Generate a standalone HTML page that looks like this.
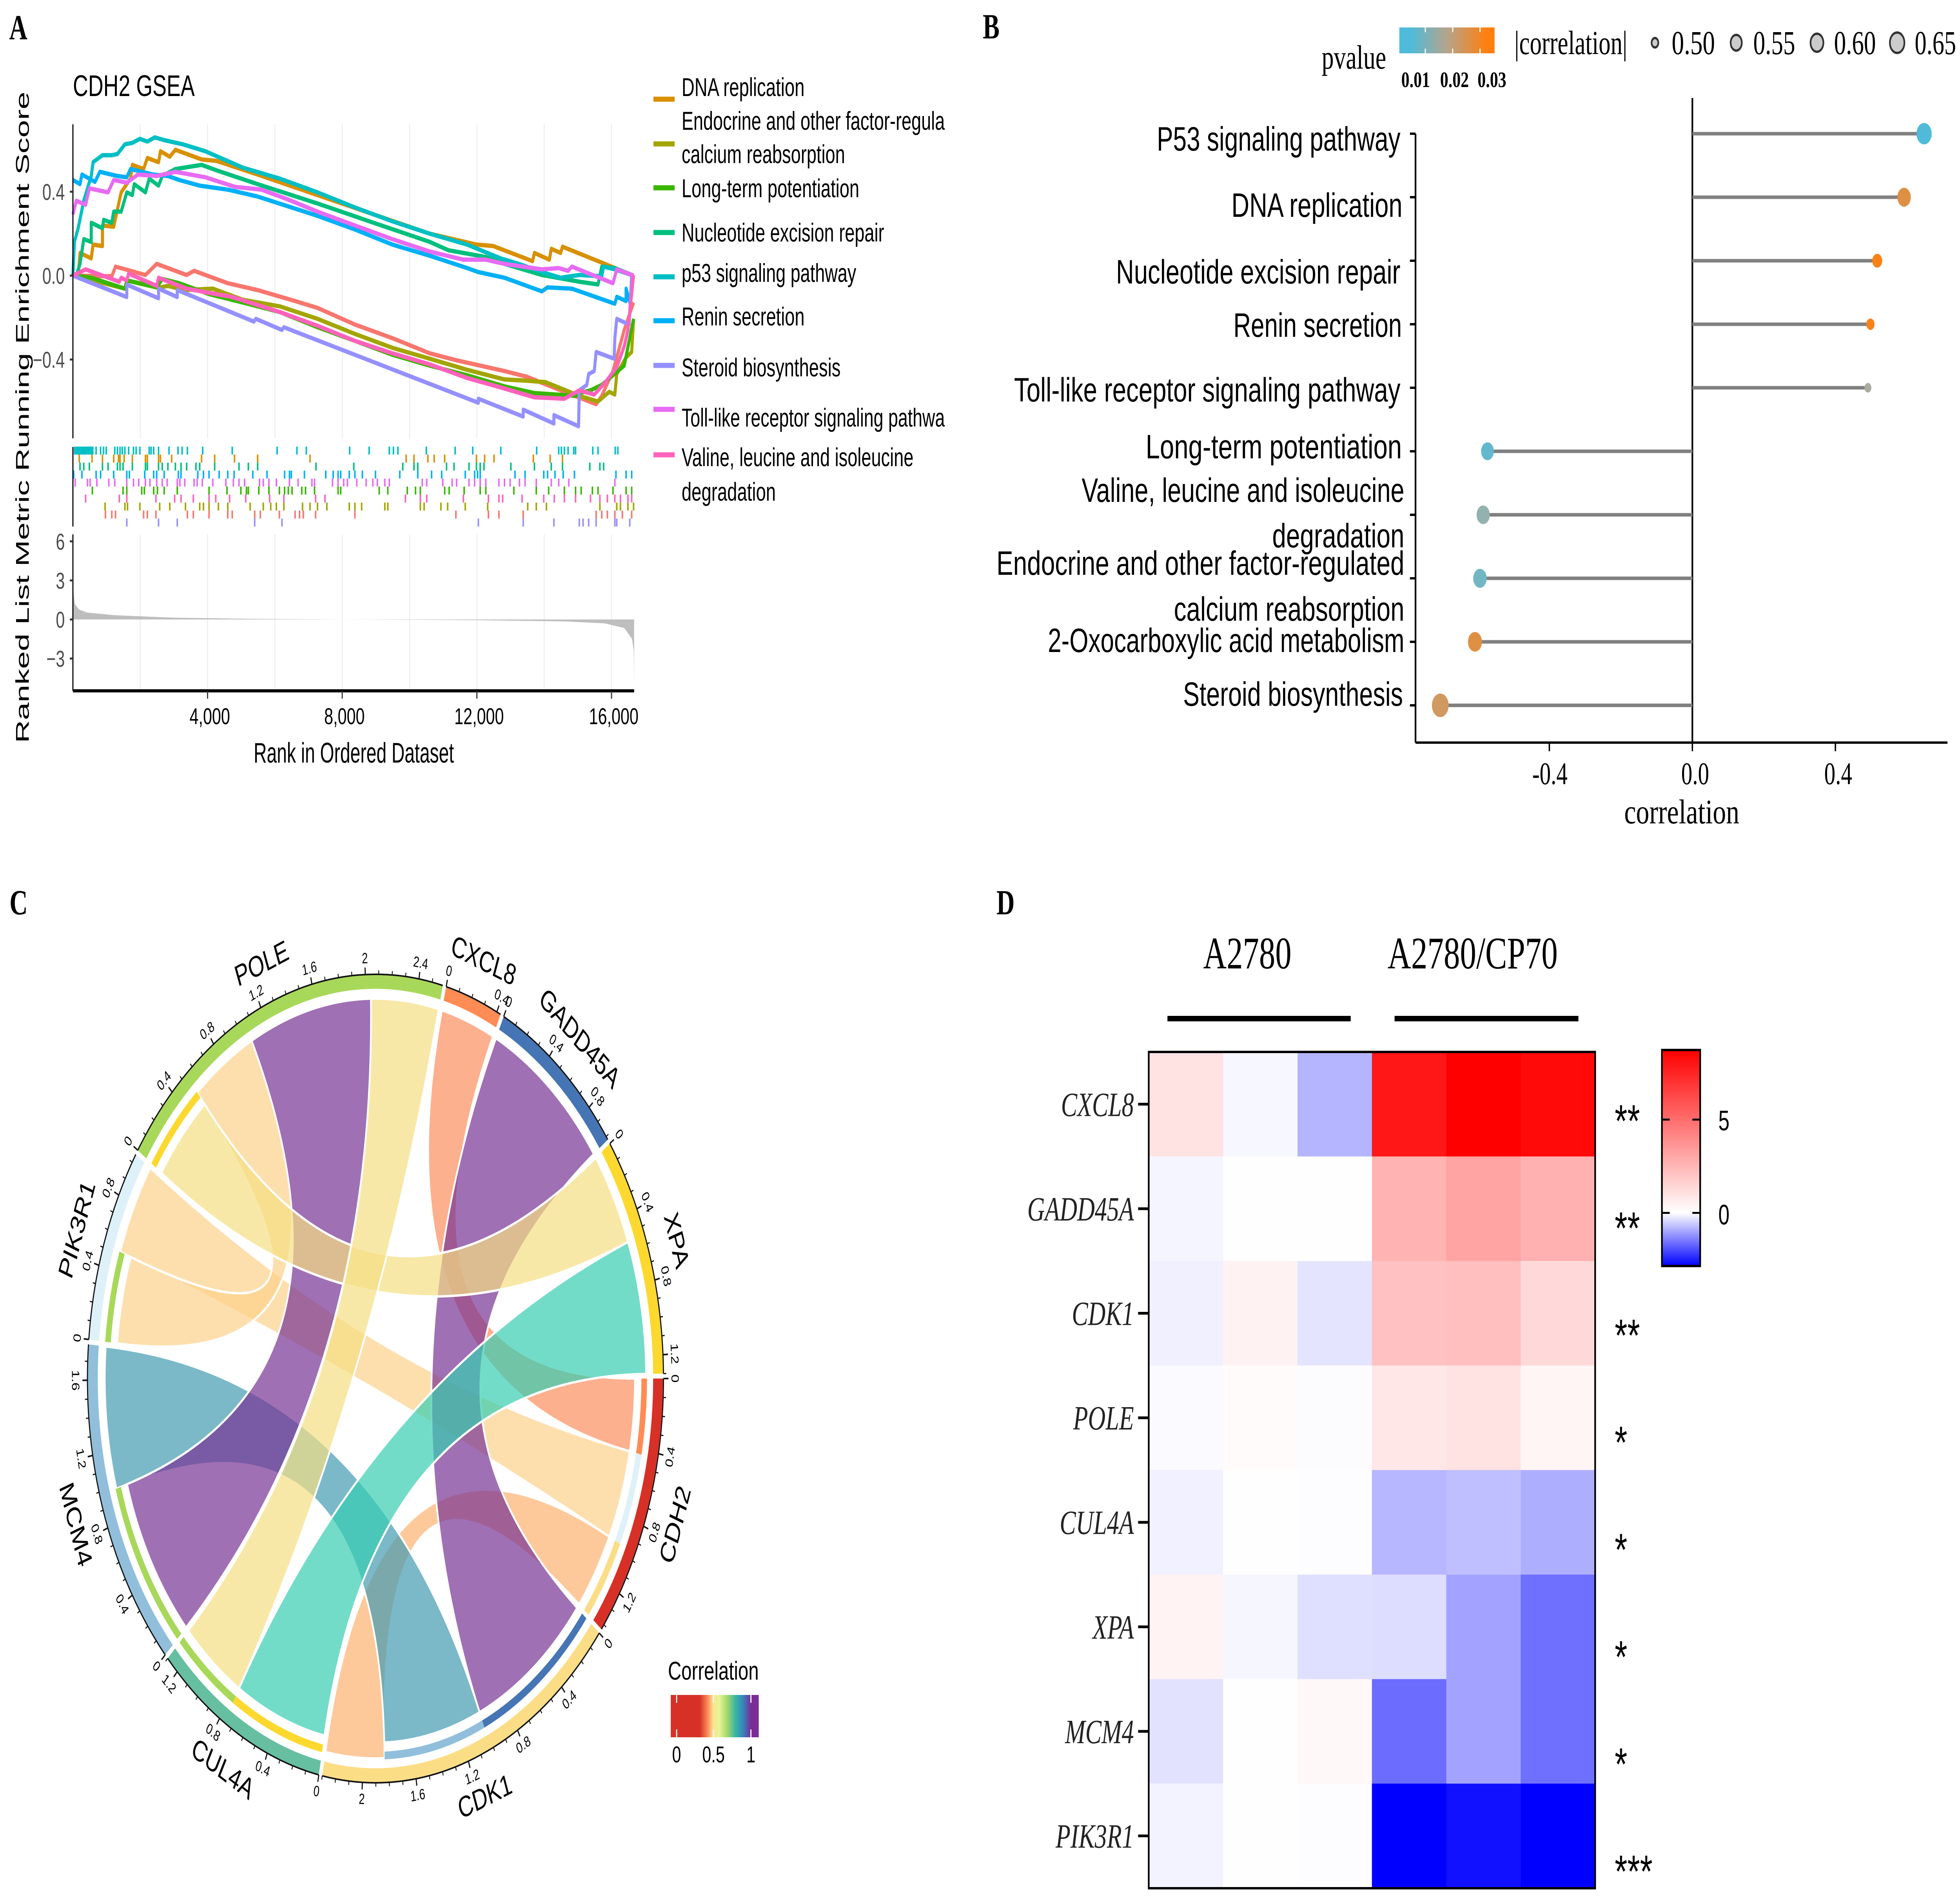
<!DOCTYPE html>
<html lang="en">
<head>
<meta charset="utf-8">
<title>CDH2 multi-panel figure</title>
<style>
html,body{margin:0;padding:0;background:#fff;width:100%;height:100%;overflow:hidden;}
svg{display:block;width:100vw;height:100vh;}
text{font-family:"Liberation Sans",sans-serif;fill:#000;}
.serif{font-family:"Liberation Serif",serif;}
</style>
</head>
<body>
<svg id="chart" xmlns="http://www.w3.org/2000/svg" viewBox="0 0 7016 4846" preserveAspectRatio="none">
<defs>
<linearGradient id="pvalue-gradient" x1="0" x2="1" y1="0" y2="0">
<stop offset="0" stop-color="#4FBBD9"/><stop offset="0.12" stop-color="#4FBBD9"/><stop offset="0.5" stop-color="#B5A48C"/><stop offset="0.92" stop-color="#FF7F0E"/><stop offset="1" stop-color="#FF7F0E"/>
</linearGradient>
<linearGradient id="correlation-gradient" x1="0" x2="1" y1="0" y2="0">
<stop offset="0" stop-color="#D73027"/><stop offset="0.33" stop-color="#D73027"/><stop offset="0.42" stop-color="#FC8D59"/><stop offset="0.48" stop-color="#FEE08B"/><stop offset="0.55" stop-color="#E6F598"/><stop offset="0.64" stop-color="#A6D96A"/><stop offset="0.73" stop-color="#3CB8A0"/><stop offset="0.82" stop-color="#3288BD"/><stop offset="0.91" stop-color="#7B2D96"/><stop offset="1" stop-color="#7B2D96"/>
</linearGradient>
<linearGradient id="heat-gradient" x1="0" x2="0" y1="0" y2="1">
<stop offset="0" stop-color="#FF0000"/><stop offset="0.753" stop-color="#FFFFFF"/><stop offset="1" stop-color="#0000FF"/>
</linearGradient>
</defs>

<!-- Panel letters -->
<text class="serif" x="33" y="100" font-size="90" font-weight="bold">A</text>
<text class="serif" x="3518" y="98" font-size="90" font-weight="bold">B</text>
<text class="serif" x="34" y="2332" font-size="90" font-weight="bold">C</text>
<text class="serif" x="3567" y="2332" font-size="90" font-weight="bold">D</text>

<!-- Panel A static text -->
<g id="panel-a">
<text x="261" y="245" font-size="76" textLength="436" lengthAdjust="spacingAndGlyphs">CDH2 GSEA</text>
<text transform="translate(103,1895) rotate(-90)" font-size="66" textLength="1661" lengthAdjust="spacingAndGlyphs">Ranked List Metric Running Enrichment Score</text>
<text x="908" y="1945" font-size="72" textLength="717" lengthAdjust="spacingAndGlyphs">Rank in Ordered Dataset</text>
<g font-size="66">
<text x="2440" y="245" textLength="440" lengthAdjust="spacingAndGlyphs">DNA replication</text>
<text x="2440" y="331" textLength="942" lengthAdjust="spacingAndGlyphs">Endocrine and other factor-regula</text>
<text x="2440" y="416" textLength="585" lengthAdjust="spacingAndGlyphs">calcium reabsorption</text>
<text x="2440" y="503" textLength="636" lengthAdjust="spacingAndGlyphs">Long-term potentiation</text>
<text x="2440" y="616" textLength="725" lengthAdjust="spacingAndGlyphs">Nucleotide excision repair</text>
<text x="2440" y="719" textLength="625" lengthAdjust="spacingAndGlyphs">p53 signaling pathway</text>
<text x="2440" y="830" textLength="440" lengthAdjust="spacingAndGlyphs">Renin secretion</text>
<text x="2440" y="960" textLength="569" lengthAdjust="spacingAndGlyphs">Steroid biosynthesis</text>
<text x="2440" y="1088" textLength="942" lengthAdjust="spacingAndGlyphs">Toll-like receptor signaling pathwa</text>
<text x="2440" y="1189" textLength="830" lengthAdjust="spacingAndGlyphs">Valine, leucine and isoleucine</text>
<text x="2440" y="1277" textLength="337" lengthAdjust="spacingAndGlyphs">degradation</text>
</g>
</g>

<!-- Panel B static text -->
<g id="panel-b">
<text class="serif" x="4731" y="175" font-size="86" textLength="231" lengthAdjust="spacingAndGlyphs">pvalue</text>
<rect x="5009" y="70" width="341" height="66" fill="url(#pvalue-gradient)"/>
<text class="serif" x="5016" y="222" font-size="56" font-weight="bold" textLength="103" lengthAdjust="spacingAndGlyphs">0.01</text>
<text class="serif" x="5155" y="222" font-size="56" font-weight="bold" textLength="103" lengthAdjust="spacingAndGlyphs">0.02</text>
<text class="serif" x="5289" y="222" font-size="56" font-weight="bold" textLength="103" lengthAdjust="spacingAndGlyphs">0.03</text>
<text class="serif" x="5421" y="138" font-size="86" textLength="404" lengthAdjust="spacingAndGlyphs">|correlation|</text>
<g font-size="86" class="serif">
<text class="serif" x="5984" y="138" textLength="155" lengthAdjust="spacingAndGlyphs">0.50</text>
<text class="serif" x="6276" y="138" textLength="150" lengthAdjust="spacingAndGlyphs">0.55</text>
<text class="serif" x="6565" y="138" textLength="150" lengthAdjust="spacingAndGlyphs">0.60</text>
<text class="serif" x="6854" y="138" textLength="148" lengthAdjust="spacingAndGlyphs">0.65</text>
</g>
<g font-size="86">
<text x="4141" y="384" textLength="872" lengthAdjust="spacingAndGlyphs">P53 signaling pathway</text>
<text x="4408" y="553" textLength="612" lengthAdjust="spacingAndGlyphs">DNA replication</text>
<text x="3995" y="723" textLength="1018" lengthAdjust="spacingAndGlyphs">Nucleotide excision repair</text>
<text x="4415" y="859" textLength="603" lengthAdjust="spacingAndGlyphs">Renin secretion</text>
<text x="3630" y="1024" textLength="1383" lengthAdjust="spacingAndGlyphs">Toll-like receptor signaling pathway</text>
<text x="4101" y="1169" textLength="917" lengthAdjust="spacingAndGlyphs">Long-term potentiation</text>
<text x="3872" y="1280" textLength="1155" lengthAdjust="spacingAndGlyphs">Valine, leucine and isoleucine</text>
<text x="4554" y="1396" textLength="473" lengthAdjust="spacingAndGlyphs">degradation</text>
<text x="3567" y="1466" textLength="1460" lengthAdjust="spacingAndGlyphs">Endocrine and other factor-regulated</text>
<text x="4202" y="1583" textLength="825" lengthAdjust="spacingAndGlyphs">calcium reabsorption</text>
<text x="3751" y="1663" textLength="1276" lengthAdjust="spacingAndGlyphs">2-Oxocarboxylic acid metabolism</text>
<text x="4235" y="1800" textLength="787" lengthAdjust="spacingAndGlyphs">Steroid biosynthesis</text>
</g>
<text class="serif" x="5814" y="2100" font-size="88" textLength="412" lengthAdjust="spacingAndGlyphs">correlation</text>
</g>

<!-- Panel C static legend -->
<g id="panel-c">
<text x="2391" y="4284" font-size="66" textLength="325" lengthAdjust="spacingAndGlyphs">Correlation</text>
<rect x="2401" y="4323" width="315" height="108" fill="url(#correlation-gradient)"/>
<rect x="2420" y="4323" width="4" height="20" fill="#fff"/>
<rect x="2552" y="4323" width="4" height="20" fill="#fff"/>
<rect x="2686" y="4323" width="4" height="20" fill="#fff"/>
<rect x="2420" y="4411" width="4" height="20" fill="#fff"/>
<rect x="2552" y="4411" width="4" height="20" fill="#fff"/>
<rect x="2686" y="4411" width="4" height="20" fill="#fff"/>
<text x="2422" y="4495" font-size="58" text-anchor="middle">0</text>
<text x="2554" y="4495" font-size="58" text-anchor="middle">0.5</text>
<text x="2688" y="4495" font-size="58" text-anchor="middle">1</text>
</g>

<!-- Panel D static parts -->
<g id="panel-d">
<text class="serif" x="4307" y="2470" font-size="116" textLength="316" lengthAdjust="spacingAndGlyphs">A2780</text>
<text class="serif" x="4967" y="2470" font-size="116" textLength="609" lengthAdjust="spacingAndGlyphs">A2780/CP70</text>
<rect x="4179" y="2591" width="656" height="14" fill="#000"/>
<rect x="4992" y="2591" width="658" height="14" fill="#000"/>
<rect x="5949" y="2678" width="137" height="551" fill="url(#heat-gradient)" stroke="#000" stroke-width="6"/>
<rect x="5949" y="2853" width="28" height="5" fill="#000"/>
<rect x="6058" y="2853" width="28" height="5" fill="#000"/>
<rect x="5949" y="3091" width="28" height="5" fill="#000"/>
<rect x="6058" y="3091" width="28" height="5" fill="#000"/>
<text x="6151" y="2883" font-size="72">5</text>
<text x="6151" y="3123" font-size="72">0</text>
</g>
</svg>

<script>
/* ---------- Panel A data: GSEA running enrichment curves ---------- */
const seriesKeys = ['Oxo','DNA','Endocrine','LTP','NER','P53','Renin','Steroid','Toll','Valine'];
const rankOxo = [0,1155,1266,2155,2489,3378,3600,4600,5488,6599,7266,8377,9488,10599,11377,12821,13488,14488,15543,15710,16043,16377,16655];
const esOxo = [0,-.003,.043,.003,.056,.003,.023,-.036,-.069,-.121,-.154,-.233,-.298,-.370,-.403,-.455,-.482,-.547,-.613,-.573,-.455,-.259,-.128];
const rankDNA = [0,156,211,544,600,878,878,1211,1433,1711,1766,2100,2211,2544,2600,2877,3044,3822,4266,5488,7266,8932,10599,11988,12488,13654,13710,14154,14210,14488,14543,15710,16099,16655];
const esDNA = [0,0,.108,.082,.148,.141,.239,.233,.397,.462,.528,.508,.561,.541,.593,.567,.600,.554,.547,.482,.384,.292,.200,.148,.141,.069,.108,.076,.128,.108,.138,.062,.036,0];
const rankEndocrine = [0,600,1544,1600,2600,2822,3322,4155,5044,6155,7266,8377,9488,10599,11710,12821,13488,14043,15043,15599,15932,16099,16155,16433,16599,16655];
const esEndocrine = [0,-.023,-.062,-.023,-.056,-.049,-.069,-.062,-.115,-.147,-.206,-.278,-.344,-.396,-.449,-.495,-.501,-.508,-.573,-.600,-.554,-.567,-.469,-.390,-.364,-.206];
const rankLTP = [0,544,1544,1600,2489,2655,3155,4044,5044,6155,7266,8377,9488,10599,11710,12821,13710,14932,15043,15377,15710,16377,16655];
const esLTP = [0,-.010,-.062,-.023,-.056,-.016,-.036,-.088,-.128,-.174,-.246,-.311,-.377,-.429,-.475,-.528,-.560,-.573,-.560,-.547,-.521,-.429,-.206];
const rankNER = [0,100,211,322,544,544,878,911,1155,1211,1433,1600,1766,1822,2155,2266,2544,2655,3044,3822,4266,5488,7266,8932,10599,11155,12266,12821,13932,15043,15599,15710,16099,16655];
const esNER = [0,0,.056,.174,.161,.252,.226,.266,.252,.305,.305,.397,.384,.436,.397,.462,.429,.475,.508,.528,.502,.436,.344,.252,.161,.121,.089,.056,.003,-.029,-.042,.043,.036,0];
const rankP53 = [0,44,156,322,544,600,878,1155,1322,1544,1766,1989,2211,2433,2711,3266,3933,4488,5044,6155,7266,8377,9488,10599,11710,12710,13377,13932,14488,15043,15710,15765,16099,16655];
const esP53 = [0,.161,.226,.357,.475,.541,.574,.574,.580,.626,.633,.652,.639,.659,.646,.626,.593,.554,.515,.462,.397,.325,.259,.200,.148,.082,.049,.017,-.010,.003,-.003,.043,.030,0];
const rankRenin = [0,211,267,656,800,1322,1600,1711,2378,2822,3155,3766,4600,5488,6377,7266,8377,9488,10599,11710,12044,12821,13932,14099,14821,16099,16155,16433,16433,16544,16655];
const esRenin = [.456,.436,.482,.447,.495,.475,.469,.508,.482,.475,.456,.429,.410,.377,.331,.285,.220,.148,.095,.036,.017,-.010,-.075,-.056,-.062,-.134,-.101,-.121,-.062,-.128,.003];
const rankSteroid = [0,1600,1600,2544,2544,3100,3100,5377,5433,6210,6266,12044,12044,13377,13377,14288,14288,15021,15043,15265,15321,15488,15543,16077,16099,16155,16521,16599];
const esSteroid = [0,-.102,-.043,-.108,-.062,-.102,-.069,-.219,-.206,-.259,-.246,-.606,-.587,-.672,-.639,-.705,-.665,-.718,-.547,-.521,-.469,-.455,-.364,-.396,-.298,-.206,-.233,.003];
const rankToll = [0,100,378,489,1044,1211,1600,1933,2489,3044,3933,4822,5599,6377,7266,8377,9488,10599,11599,12266,12821,13932,14432,14710,14821,16044,16155,16655];
const esToll = [.292,.357,.338,.416,.397,.456,.443,.482,.475,.495,.469,.423,.410,.364,.305,.239,.174,.115,.076,.076,.056,.030,.036,.023,.043,-.036,.030,0];
const rankValine = [0,378,1378,1433,1600,1655,2489,2544,3378,4044,4711,6155,7266,8377,9488,10599,11710,12599,13710,14599,15043,15488,15821,16155,16377,16488,16655];
const esValine = [0,.030,-.029,-.010,-.023,.010,-.049,-.010,-.062,-.082,-.101,-.174,-.239,-.311,-.370,-.423,-.488,-.528,-.580,-.587,-.547,-.567,-.508,-.436,-.337,-.259,.003];

/* Hit positions (rank) per gene set, one rug row each, top to bottom */
const rugOrder = ['P53','DNA','NER','Renin','Toll','LTP','Valine','Endocrine','Oxo','Steroid'];
const hitsP53 = [50,95,140,185,230,275,320,365,410,455,500,545,590,689,822,911,989,1244,1322,1400,1467,1544,1655,1800,1878,1989,2266,2322,2400,2544,2855,3122,3244,3400,3855,4733,6066,6655,6933,8221,8799,9399,9521,9655,10499,11355,11877,12710,13776,14432,14510,14599,14710,14877,14932,15443,15599,16110,16188];
const hitsDNA = [189,567,878,1211,1355,1400,1522,1766,2155,2211,2544,2600,2933,3822,4211,4800,5488,7044,9899,10132,10544,10732,11044,11988,12232,12510,13677,14177,14543];
const hitsNER = [211,322,489,878,1044,1322,1400,1489,1766,2155,2211,2544,2655,2822,3044,3211,3378,3655,3766,4211,4933,5211,5488,7222,8344,9799,10132,10244,11099,11322,11766,11988,12099,12210,13010,13710,14210,14543,15354,15654,15765];
const hitsRenin = [22,267,689,822,1211,1600,1678,2133,2400,2489,2711,3133,3211,3711,3878,4044,4344,4600,4789,5344,5766,6288,6433,6488,6877,7511,7733,7877,7955,8210,8377,8599,8988,9710,10244,10655,10955,11655,11933,12021,12099,13132,13432,13987,14099,14321,14565,14899,16132,16433,16599];
const hitsToll = [67,433,511,711,1067,1244,1600,1800,1955,2155,2289,2489,2655,2800,3100,3178,3322,3600,3689,3844,4155,4544,4766,4933,5100,5544,5655,5822,6044,6433,6688,7100,7177,7711,7877,8044,8155,8433,8711,8910,9044,9266,9399,10377,10510,10988,11266,11399,11766,11933,12099,12266,12655,12821,12988,13265,13432,13765,14210,14432,14732,16099];
const hitsLTP = [578,1489,1600,2044,2122,2400,2511,2711,3100,4044,4577,4989,5155,5211,5522,5822,6133,6288,6399,6510,6799,6910,7177,7877,7955,9099,9355,9933,10177,10321,11044,11177,11622,12099,12266,13099,13765,14132,14599,14932,15099,15432,15599,16044,16433,16599];
const hitsValine = [378,1378,1600,2466,3022,3211,3577,4044,4244,4655,5133,5844,6266,7210,7488,9877,10321,10510,11599,12343,12655,12766,13343,13987,14299,14599,14932,15376,15654,15876,16099,16265,16488,16599];
const hitsEndocrine = [956,1544,1622,1989,2578,2877,3344,3766,3878,4044,4322,4600,5266,5655,5877,6044,6266,6821,7044,7266,7544,8210,8377,8577,9266,9355,10321,10433,10932,11132,11655,12321,13510,13765,14066,15654,16155,16265,16488,16655];
const hitsOxo = [967,1155,1266,2100,2211,2466,3400,3577,4044,4600,4733,5400,5566,6133,6599,6733,6844,7210,8377,11377,12343,12655,13377,15543,15710,15876,16099,16321,16599];
const hitsSteroid = [1600,2544,3100,5400,6210,12044,13377,14288,15043,15154,15321,15543,16099,16155,16543];

/* Ranked list metric */
const metricRanks = [0,20,58,175,408,1223,2970,5300,8000,10000,12000,14640,15800,16380,16610,16660,16672];
const metricValues = [2.8,2,1.2,.78,.54,.33,.14,.05,0,-.02,-.05,-.15,-.3,-.66,-1.5,-2.4,-5];

const rankTicks = [4000,8000,12000,16000];
const rankTickLabels = ['4,000','8,000','12,000','16,000'];
const rankGrid = [2000,4000,6000,8000,10000,12000,14000,16000];
const esTicks = [0.4,0,-0.4];
const esTickLabels = ['0.4','0.0','\u22120.4'];
const metricTicks = [6,3,0,-3];
const metricTickLabels = ['6','3','0','\u22123'];
const legendKeys = ['DNA','Endocrine','LTP','NER','P53','Renin','Steroid','Toll','Valine'];

/* ---------- Panel B data: lollipop ---------- */
const pathways = ['P53 signaling pathway','DNA replication','Nucleotide excision repair','Renin secretion','Toll-like receptor signaling pathway','Long-term potentiation','Valine, leucine and isoleucine degradation','Endocrine and other factor-regulated calcium reabsorption','2-Oxocarboxylic acid metabolism','Steroid biosynthesis'];
const correlations = [.648,.592,.517,.498,.491,-.573,-.585,-.594,-.608,-.705];
const pvalues = [.005,.0263,.031,.031,.017,.0076,.014,.0097,.0265,.0236];
const corrTicks = [-0.4,0,0.4];
const corrTickLabels = ['-0.4','0.0','0.4'];
const sizeLegendValues = [.50,.55,.60,.65];

/* ---------- Panel C data: chord diagram ---------- */
const sectorOrder = ['CDH2','CDK1','CUL4A','MCM4','PIK3R1','POLE','CXCL8','GADD45A','XPA'];
const linkFrom = ['CDH2','CDH2','CDH2','CDK1','CDK1','CUL4A','CUL4A','MCM4','PIK3R1','POLE'];
const linkTo = ['CXCL8','PIK3R1','CDK1','GADD45A','MCM4','XPA','POLE','POLE','POLE','XPA'];
const linkCorr = [.43,.53,.47,1.02,.81,.76,.54,.98,.52,.54];

/* ---------- Panel D data: heatmap ---------- */
const genes = ['CXCL8','GADD45A','CDK1','POLE','CUL4A','XPA','MCM4','PIK3R1'];
const rowCXCL8 = [1.0,-.09,-.83,7.9,8.7,8.4];
const rowGADD45A = [-.11,.05,.05,2.6,3.15,2.7];
const rowCDK1 = [-.17,.45,-.3,2.1,2.2,1.3];
const rowPOLE = [-.06,.13,-.03,.82,1.0,.33];
const rowCUL4A = [-.16,.03,-.02,-.81,-.72,-.91];
const rowXPA = [.4,-.1,-.36,-.38,-1.03,-1.6];
const rowMCM4 = [-.33,.03,.24,-1.65,-1.03,-1.6];
const rowPIK3R1 = [-.14,.03,-.02,-2.86,-2.67,-2.86];
const significance = ['**','**','**','*','*','*','*','***'];

/* ---------- Shared ---------- */
const NS = 'http://www.w3.org/2000/svg';
function make(tag, parent){ const e = document.createElementNS(NS, tag); parent.appendChild(e); return e; }
function lerpColor(a,b,t){ return [0,1,2].map(i => Math.round(a[i]+(b[i]-a[i])*t)); }
function rgb(c){ return 'rgb('+c[0]+','+c[1]+','+c[2]+')'; }

/* ---------- Panel A drawing ---------- */
(function(){
  const root = document.getElementById('panel-a');
  const seriesColor = {Oxo:'#F8766D',DNA:'#D89000',Endocrine:'#A3A500',LTP:'#39B600',NER:'#00BF7D',P53:'#00BFC4',Renin:'#00B0F6',Steroid:'#9590FF',Toll:'#E76BF3',Valine:'#FF62BC'};
  const seriesRanks = {Oxo:rankOxo,DNA:rankDNA,Endocrine:rankEndocrine,LTP:rankLTP,NER:rankNER,P53:rankP53,Renin:rankRenin,Steroid:rankSteroid,Toll:rankToll,Valine:rankValine};
  const seriesES = {Oxo:esOxo,DNA:esDNA,Endocrine:esEndocrine,LTP:esLTP,NER:esNER,P53:esP53,Renin:esRenin,Steroid:esSteroid,Toll:esToll,Valine:esValine};
  const seriesHits = {Oxo:hitsOxo,DNA:hitsDNA,Endocrine:hitsEndocrine,LTP:hitsLTP,NER:hitsNER,P53:hitsP53,Renin:hitsRenin,Steroid:hitsSteroid,Toll:hitsToll,Valine:hitsValine};
  const xRank = r => 261 + r*0.1205;
  const yES = v => 703 - v*535;
  const yMetric = v => 1580 - v*33.2;
  const legendY = [253,367,479,593,706,818,932,1044,1160];

  rankGrid.forEach(function(g){
    const a = make('line', root);
    a.setAttribute('x1', xRank(g)); a.setAttribute('x2', xRank(g)); a.setAttribute('y1', 317); a.setAttribute('y2', 1118);
    a.setAttribute('stroke', '#EBEBEB'); a.setAttribute('stroke-width', 3);
    
    
    const b = make('line', root);
    b.setAttribute('x1', xRank(g)); b.setAttribute('x2', xRank(g)); b.setAttribute('y1', 1363); b.setAttribute('y2', 1758);
    b.setAttribute('stroke', '#EBEBEB'); b.setAttribute('stroke-width', 3);
    
    
  });

  seriesKeys.forEach(function(k){
    const p = make('polyline', root);
    p.setAttribute('points', seriesRanks[k].map((r,i) => xRank(r).toFixed(1)+','+yES(seriesES[k][i]).toFixed(1)).join(' '));
    p.setAttribute('fill', 'none');
    p.setAttribute('stroke', seriesColor[k]);
    p.setAttribute('stroke-width', 11);
    p.setAttribute('stroke-linejoin', 'round');
    
    
  });

  rugOrder.forEach(function(k, row){
    seriesHits[k].forEach(function(r){
      const l = make('line', root);
      l.setAttribute('x1', xRank(r)); l.setAttribute('x2', xRank(r));
      l.setAttribute('y1', 1139 + row*20.4); l.setAttribute('y2', 1139 + (row+1)*20.4);
      l.setAttribute('stroke', seriesColor[k]);
      l.setAttribute('stroke-width', 5.5);
      
      
    });
  });

  const area = make('polygon', root);
  area.setAttribute('points', xRank(metricRanks[0])+','+yMetric(0)+' '+metricRanks.map((r,i) => xRank(r).toFixed(1)+','+yMetric(metricValues[i]).toFixed(1)).join(' ')+' '+xRank(metricRanks[metricRanks.length-1])+','+yMetric(0));
  area.setAttribute('fill', '#BEBEBE');
  
  

  const axes = [[261,317,261,1118,4,'es-y-axis'],[261,1140,261,1343,4,'rug-axis'],[261,1363,261,1762,4,'metric-y-axis'],[261,1762,2270,1762,8,'metric-x-axis']];
  axes.forEach(function(a){
    const l = make('line', root);
    l.setAttribute('x1', a[0]); l.setAttribute('y1', a[1]); l.setAttribute('x2', a[2]); l.setAttribute('y2', a[3]);
    l.setAttribute('stroke', '#000'); l.setAttribute('stroke-width', a[4]);
    
    
  });

  esTicks.forEach(function(v,i){
    const t = make('line', root);
    t.setAttribute('x1', 250); t.setAttribute('x2', 261); t.setAttribute('y1', yES(v)); t.setAttribute('y2', yES(v));
    t.setAttribute('stroke', '#333'); t.setAttribute('stroke-width', 5);
    
    
    const s = make('text', root);
    s.textContent = esTickLabels[i];
    s.setAttribute('x', 232); s.setAttribute('y', yES(v)+21);
    s.setAttribute('text-anchor', 'end'); s.setAttribute('font-size', 58);
    s.style.fill = '#4D4D4D';
    
    
  });
  metricTicks.forEach(function(v,i){
    const t = make('line', root);
    t.setAttribute('x1', 250); t.setAttribute('x2', 261); t.setAttribute('y1', yMetric(v)); t.setAttribute('y2', yMetric(v));
    t.setAttribute('stroke', '#333'); t.setAttribute('stroke-width', 5);
    
    
    const s = make('text', root);
    s.textContent = metricTickLabels[i];
    s.setAttribute('x', 232); s.setAttribute('y', yMetric(v)+21);
    s.setAttribute('text-anchor', 'end'); s.setAttribute('font-size', 58);
    s.style.fill = '#4D4D4D';
    
    
  });
  rankTicks.forEach(function(r,i){
    const t = make('line', root);
    t.setAttribute('x1', xRank(r)); t.setAttribute('x2', xRank(r)); t.setAttribute('y1', 1762); t.setAttribute('y2', 1782);
    t.setAttribute('stroke', '#333'); t.setAttribute('stroke-width', 4);
    
    
    const s = make('text', root);
    s.textContent = rankTickLabels[i];
    s.setAttribute('x', xRank(r)+8); s.setAttribute('y', 1847);
    s.setAttribute('text-anchor', 'middle'); s.setAttribute('font-size', 58);
    
    
  });
  legendKeys.forEach(function(k,i){
    const l = make('line', root);
    l.setAttribute('x1', 2339); l.setAttribute('x2', 2415); l.setAttribute('y1', legendY[i]); l.setAttribute('y2', legendY[i]);
    l.setAttribute('stroke', seriesColor[k]); l.setAttribute('stroke-width', 13);
    
    
  });
})();

/* ---------- Panel B drawing ---------- */
(function(){
  const root = document.getElementById('panel-b');
  const bx = v => 6058 + v*1280;
  const by = i => 341 + i*162;
  const dotR = c => 11 + Math.sqrt(Math.max(0,Math.abs(c)-.49)/.215)*19;
  function pColor(p){
    const a=[79,187,217], m=[169,173,160], b=[255,127,14];
    if(p<=.017) return rgb(lerpColor(a,m,Math.max(0,(p-.005)/.012)));
    return rgb(lerpColor(m,b,Math.min(1,(p-.017)/.015)));
  }
  const lines = [[5067,341,5067,1894,'lollipop-y-axis'],[5067,1894,6971,1894,'lollipop-x-axis'],[bx(0),250,bx(0),1894,'zero-line']];
  lines.forEach(function(a){
    const l = make('line', root);
    l.setAttribute('x1',a[0]); l.setAttribute('y1',a[1]); l.setAttribute('x2',a[2]); l.setAttribute('y2',a[3]);
    l.setAttribute('stroke','#000'); l.setAttribute('stroke-width',6);
    
    
  });
  pathways.forEach(function(name,i){
    const t = make('line', root);
    t.setAttribute('x1',5047); t.setAttribute('x2',5067); t.setAttribute('y1',by(i)); t.setAttribute('y2',by(i));
    t.setAttribute('stroke','#000'); t.setAttribute('stroke-width',6);
    
    
    const s = make('line', root);
    s.setAttribute('x1',bx(0)); s.setAttribute('x2',bx(correlations[i])); s.setAttribute('y1',by(i)); s.setAttribute('y2',by(i));
    s.setAttribute('stroke','#808080'); s.setAttribute('stroke-width',9);
    
    
    const d = make('circle', root);
    d.setAttribute('cx',bx(correlations[i])); d.setAttribute('cy',by(i)); d.setAttribute('r',dotR(correlations[i]));
    d.setAttribute('fill',pColor(pvalues[i]));
    
    
  });
  corrTicks.forEach(function(v,i){
    const t = make('line', root);
    t.setAttribute('x1',bx(v)); t.setAttribute('x2',bx(v)); t.setAttribute('y1',1894); t.setAttribute('y2',1916);
    t.setAttribute('stroke','#000'); t.setAttribute('stroke-width',5);
    
    
    const s = make('text', root);
    s.textContent = corrTickLabels[i];
    s.setAttribute('x',bx(v)+ (i===0?2:10)); s.setAttribute('y',2000);
    s.setAttribute('text-anchor','middle'); s.setAttribute('font-size',80);
    s.style.fontFamily = '"Liberation Serif",serif';
    
    
  });
  const sizeX = [5924,6215,6504,6791];
  const sizeR = [12,20,23,26];
  sizeLegendValues.forEach(function(v,i){
    const c = make('circle', root);
    c.setAttribute('cx',sizeX[i]); c.setAttribute('cy',109); c.setAttribute('r',sizeR[i]);
    c.setAttribute('fill','#CCCCCC'); c.setAttribute('stroke','#333'); c.setAttribute('stroke-width',6);
    
    
  });
  [5100,5198,5296].forEach(function(x){
    [70,124].forEach(function(y){
      const t = make('rect', root);
      t.setAttribute('x',x); t.setAttribute('y',y); t.setAttribute('width',4); t.setAttribute('height',12);
      t.setAttribute('fill','#fff');
      
      
    });
  });
})();

/* ---------- Panel C drawing ---------- */
(function(){
  const root = document.getElementById('panel-c');
  const CX = 1344, CY = 3516, R = 1029, RI = 994, BO = 972, BI = 952, RF = 929, RT = 969;
  const GAP = 0.7, START = 90;
  const sectorColor = {CDH2:'#D73027',CDK1:'#FBDD85',CUL4A:'#66BFA0',MCM4:'#91BFDB',PIK3R1:'#DFF1F8',POLE:'#A8D85A',CXCL8:'#FF8C55',GADD45A:'#4575B4',XPA:'#FDD82E'};
  const stopV = [0,.3,.43,.47,.52,.535,.54,.65,.76,.81,.98,1.02];
  const stopC = [[215,48,39],[215,48,39],[252,142,94],[252,178,111],[252,209,140],[252,209,140],[245,222,131],[166,217,106],[54,205,177],[67,155,178],[119,51,148],[119,51,148]];
  function corrColor(v){
    for(let i=1;i<stopV.length;i++){ if(v<=stopV[i]) return rgb(lerpColor(stopC[i-1],stopC[i],(v-stopV[i-1])/(stopV[i]-stopV[i-1]))); }
    return rgb(stopC[stopC.length-1]);
  }
  function pt(theta,r){ const a=theta*Math.PI/180; return [CX+r*Math.sin(a), CY-r*Math.cos(a)]; }
  function P(p){ return p[0].toFixed(1)+' '+p[1].toFixed(1); }
  function annular(a1,a2,r1,r2){
    const large = (a2-a1)>180?1:0;
    return 'M'+P(pt(a1,r2))+'A'+r2+' '+r2+' 0 '+large+' 1 '+P(pt(a2,r2))+'L'+P(pt(a2,r1))+'A'+r1+' '+r1+' 0 '+large+' 0 '+P(pt(a1,r1))+'Z';
  }
  const totals = {};
  sectorOrder.forEach(s => { totals[s] = 0; });
  linkCorr.forEach(function(v,i){ totals[linkFrom[i]] += v; totals[linkTo[i]] += v; });
  const sum = sectorOrder.reduce((a,s) => a + totals[s], 0);
  const degPerUnit = (360 - GAP*sectorOrder.length)/sum;
  const starts = {}, ends = {};
  const fromEnd = [], toEnd = [];
  let cursor = START;
  sectorOrder.forEach(function(s){
    starts[s] = cursor;
    let c = cursor;
    linkCorr.forEach(function(v,i){ if(linkFrom[i]===s){ fromEnd[i] = [c, c+v*degPerUnit]; c += v*degPerUnit; } });
    for(let i=linkCorr.length-1;i>=0;i--){ if(linkTo[i]===s){ toEnd[i] = [c, c+linkCorr[i]*degPerUnit]; c += linkCorr[i]*degPerUnit; } }
    ends[s] = c;
    cursor = c + GAP;
  });

  const drawOrder = [0,1,8,2,4,3,7,9,6,5];
  drawOrder.forEach(function(i){
    const a = fromEnd[i], b = toEnd[i];
    const rib = make('path', root);
    rib.setAttribute('d','M'+P(pt(a[0],RF))+'A'+RF+' '+RF+' 0 0 1 '+P(pt(a[1],RF))+'Q'+CX+' '+CY+' '+P(pt(b[0],RT))+'A'+RT+' '+RT+' 0 0 1 '+P(pt(b[1],RT))+'Q'+CX+' '+CY+' '+P(pt(a[0],RF))+'Z');
    rib.setAttribute('fill',corrColor(linkCorr[i]));
    rib.setAttribute('fill-opacity',0.7);
    rib.setAttribute('stroke','#fff');
    rib.setAttribute('stroke-width',6);
    
    
  });
  linkCorr.forEach(function(v,i){
    const a = fromEnd[i];
    const band = make('path', root);
    band.setAttribute('d',annular(a[0],a[1],BI,BO));
    band.setAttribute('fill',sectorColor[linkTo[i]]);
    
    
  });
  sectorOrder.forEach(function(s){
    const a1 = starts[s], a2 = ends[s];
    const ring = make('path', root);
    ring.setAttribute('d',annular(a1,a2,RI,R));
    ring.setAttribute('fill',sectorColor[s]);
    
    
    const arc = make('path', root);
    arc.setAttribute('d','M'+P(pt(a1,R+2))+'A'+(R+2)+' '+(R+2)+' 0 '+((a2-a1)>180?1:0)+' 1 '+P(pt(a2,R+2)));
    arc.setAttribute('fill','none'); arc.setAttribute('stroke','#111'); arc.setAttribute('stroke-width',4);
    
    
    const nTicks = Math.floor(totals[s]*10 + 1e-6);
    for(let k=0;k<=nTicks;k++){
      const th = a1 + (k/10)*degPerUnit;
      const major = k%4===0;
      const p1 = pt(th,R+2), p2 = pt(th,R+(major?20:12));
      const tick = make('line', root);
      tick.setAttribute('x1',p1[0]); tick.setAttribute('y1',p1[1]); tick.setAttribute('x2',p2[0]); tick.setAttribute('y2',p2[1]);
      tick.setAttribute('stroke','#111'); tick.setAttribute('stroke-width',major?4:3);
      
      
      if(major){
        const lp = pt(th,R+44);
        const norm = ((th%360)+360)%360;
        const rot = (norm>90 && norm<270) ? norm-180 : norm;
        const label = make('text', root);
        label.textContent = String(parseFloat((k/10).toFixed(1)));
        label.setAttribute('x',lp[0]); label.setAttribute('y',lp[1]);
        label.setAttribute('text-anchor','middle'); label.setAttribute('dominant-baseline','central');
        label.setAttribute('font-size',38);
        label.setAttribute('transform','rotate('+rot.toFixed(1)+' '+lp[0].toFixed(1)+' '+lp[1].toFixed(1)+')');
        
        
      }
    }
    const mid = ((a1+a2)/2)%360;
    const sp = pt(mid,1135);
    const srot = (mid>90 && mid<270) ? mid-180 : mid;
    const name = make('text', root);
    name.textContent = s;
    name.setAttribute('x',sp[0]); name.setAttribute('y',sp[1]);
    name.setAttribute('text-anchor','middle'); name.setAttribute('dominant-baseline','central');
    name.setAttribute('font-size',75);
    name.setAttribute('transform','rotate('+srot.toFixed(1)+' '+sp[0].toFixed(1)+' '+sp[1].toFixed(1)+')');
    
    
  });
})();

/* ---------- Panel D drawing ---------- */
(function(){
  const root = document.getElementById('panel-d');
  const rows = [rowCXCL8,rowGADD45A,rowCDK1,rowPOLE,rowCUL4A,rowXPA,rowMCM4,rowPIK3R1];
  const colX = c => 4112 + c*266.3;
  const rowY = r => 2683 + r*266.6;
  const starY = r => 2833 + r*273.4;
  function heatColor(v){
    if(v>=0){ const k = Math.round(255*(1-Math.min(1,v/8.7))); return 'rgb(255,'+k+','+k+')'; }
    const k = Math.round(255*(1-Math.min(1,-v/2.86))); return 'rgb('+k+','+k+',255)';
  }
  rows.forEach(function(vals,r){
    vals.forEach(function(v,c){
      const cell = make('rect', root);
      cell.setAttribute('x',colX(c)); cell.setAttribute('y',rowY(r));
      cell.setAttribute('width',266.8); cell.setAttribute('height',267.1);
      cell.setAttribute('fill',heatColor(v));
      
      
    });
    const t = make('line', root);
    t.setAttribute('x1',4074); t.setAttribute('x2',4112); t.setAttribute('y1',rowY(r+.5)); t.setAttribute('y2',rowY(r+.5));
    t.setAttribute('stroke','#000'); t.setAttribute('stroke-width',7);
    
    
    const s = make('text', root);
    s.textContent = genes[r];
    s.setAttribute('x',4059); s.setAttribute('y',rowY(r+.5)+30);
    s.setAttribute('text-anchor','end'); s.setAttribute('font-size',87); s.setAttribute('font-style','italic');
    s.style.fontFamily = '"Liberation Serif",serif';
    s.style.fill = '#222';
    
    
    const st = make('text', root);
    st.textContent = significance[r];
    st.setAttribute('x',5780); st.setAttribute('y',starY(r)+66);
    st.setAttribute('font-size',116);
    
    
  });
  const frame = make('rect', root);
  frame.setAttribute('x',4112); frame.setAttribute('y',2683); frame.setAttribute('width',1598); frame.setAttribute('height',2133);
  frame.setAttribute('fill','none'); frame.setAttribute('stroke','#000'); frame.setAttribute('stroke-width',6);
  
  
})();
</script>
</body>
</html>
